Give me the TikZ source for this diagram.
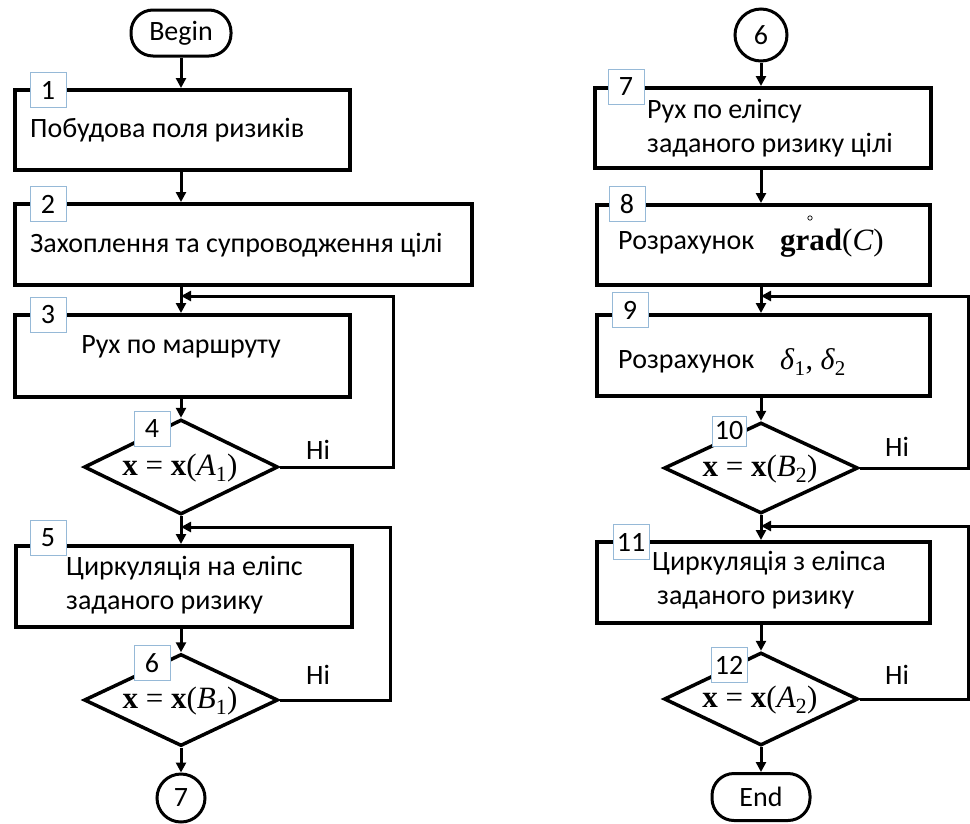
\documentclass[tikz,border=0pt]{standalone}
\usepackage{fontspec}
\setmainfont{Carlito}
\newfontfamily\tms{Liberation Serif}
\usetikzlibrary{shapes.geometric,arrows.meta}

% x = x(P_i) condition text, Times-like
\newcommand\xeq[2]{{\tms\fontsize{31}{32}\selectfont\textbf{x} = \textbf{x}(\textit{#1}\textsubscript{#2})}}

\definecolor{lblue}{RGB}{150,185,215}

\tikzset{
  base/.style={font=\fontsize{28}{34}\selectfont},
  blk/.style={draw, line width=3.5pt, anchor=north west, inner sep=0pt},
  cond/.style={draw, diamond, line width=3.5pt, inner sep=0pt, aspect=2.08},
  term/.style={draw, line width=3pt, rounded corners=22pt, inner sep=0pt, base},
  conn/.style={draw, circle, line width=3pt, minimum size=50pt, inner sep=0pt, base},
  num/.style={draw=lblue, line width=1pt, fill=white, inner sep=0pt,
              minimum width=36pt, minimum height=35pt, base},
  txt/.style={base, anchor=west, align=left, inner sep=0pt},
  arr/.style={line width=3pt, -{Triangle[length=10pt,width=10pt]}},
}

\begin{document}
\begin{tikzpicture}[x=1pt,y=-1pt]
\useasboundingbox (0,0) rectangle (970,823);

% ---------------- left column ----------------
\node[term, minimum width=100pt, minimum height=46pt] (begin) at (181,33) {Begin};

\node[blk, minimum width=335pt, minimum height=80pt] (b1) at (13,88) {};
\node[txt] (t1) at (30,130) {Побудова поля ризиків};

\node[blk, minimum width=457pt, minimum height=81pt] (b2) at (13,202) {};
\node[txt] (t2) at (30,245) {Захоплення та супроводження цілі};

\node[blk, minimum width=335pt, minimum height=82pt] (b3) at (13,313) {};
\node[base, inner sep=0pt] (t3) at (181,347) {Рух по маршруту};

\node[cond, minimum width=194pt, minimum height=95pt] (d4) at (181,467) {};
\node (m4) at (180,468) {\xeq{A}{1}};

\node[blk, minimum width=336pt, minimum height=81pt] (b5) at (14,544) {};
\node[txt] (t5) at (66,585) {Циркуляція на еліпс\\заданого ризику};

\node[cond, minimum width=194pt, minimum height=92pt] (d6) at (181,700) {};
\node (m6) at (180,701) {\xeq{B}{1}};

\node[conn, minimum size=48pt] (c7) at (181,798) {7};

\coordinate (j3) at (181,296);
\coordinate (r4) at (393,296);
\coordinate (j5) at (181,527);
\coordinate (r6) at (390,527);

\draw[arr] (begin.south) -- (begin.south |- b1.north);
\draw[arr] (j3 |- b1.south) -- (j3 |- b2.north);
\draw[arr] (j3 |- b2.south) -- (j3 |- b3.north);
\draw[arr] (j3 |- b3.south) -- (d4.north);
\draw[arr] (d4.south) -- (j5 |- b5.north);
\draw[arr] (j5 |- b5.south) -- (d6.north);
\draw[arr] (d6.south) -- (c7.north);
\draw[arr] (d4.east) -| (r4) -- (j3);
\draw[arr] (d6.east) -| (r6) -- (j5);

\node[base] (n4) at (318,450) {Ні};
\node[base] (n6) at (318,675) {Ні};

% ---------------- right column ----------------
\node[conn, minimum size=52pt] (c6) at (761,35) {6};

\node[blk, minimum width=336pt, minimum height=80pt] (b7) at (593,86) {};
\node[txt] (t7) at (647,128) {Рух по еліпсу\\заданого ризику цілі};

\node[blk, minimum width=333pt, minimum height=80pt] (b8) at (595,203) {};
\node[txt] (t8) at (618,243) {Розрахунок};
\node[txt] (g8) at (780,243) {{\tms\fontsize{31}{32}\selectfont\textbf{grad}(\textit{C\/})}};
\draw[line width=0.7pt] (810,218) circle (2.2pt);

\node[blk, minimum width=333pt, minimum height=81pt] (b9) at (595,313) {};
\node[txt] (t9) at (618,362) {Розрахунок};
\node[txt] (g9) at (780,362) {{\tms\fontsize{30}{32}\selectfont\textit{δ}\textsubscript{1}, \textit{δ}\textsubscript{2}}};

\node[cond, minimum width=194pt, minimum height=91pt] (d10) at (761,468) {};
\node (m10) at (760,469) {\xeq{B}{2}};

\node[blk, minimum width=333pt, minimum height=81pt] (b11) at (595,540) {};
\node[txt] (t11) at (652,580) {Циркуляція з еліпса\\\hspace{5pt}заданого ризику};

\node[cond, minimum width=194pt, minimum height=93pt] (d12) at (761,699) {};
\node (m12) at (760,700) {\xeq{A}{2}};

\node[term, minimum width=98pt, minimum height=47pt] (end) at (761,797) {End};

\coordinate (j9) at (761,296);
\coordinate (r10) at (968,296);
\coordinate (j11) at (761,526);
\coordinate (r12) at (968,526);

\draw[arr] (c6.south) -- (c6.south |- b7.north);
\draw[arr] (j9 |- b7.south) -- (j9 |- b8.north);
\draw[arr] (j9 |- b8.south) -- (j9 |- b9.north);
\draw[arr] (j9 |- b9.south) -- (d10.north);
\draw[arr] (d10.south) -- (j11 |- b11.north);
\draw[arr] (j11 |- b11.south) -- (d12.north);
\draw[arr] (d12.south) -- (end.north);
\draw[arr] (d10.east) -| (r10) -- (j9);
\draw[arr] (d12.east) -| (r12) -- (j11);

\node[base] (n10) at (897,447) {Ні};
\node[base] (n12) at (897,675) {Ні};

% ---------------- step numbers ----------------
\node[num] (l1) at (48,90) {1};
\node[num] (l2) at (48,204) {2};
\node[num] (l3) at (48,315) {3};
\node[num] (l4) at (152,429) {4};
\node[num] (l5) at (48,538) {5};
\node[num] (l6) at (152,663) {6};
\node[num] (l7) at (626,87) {7};
\node[num] (l8) at (627,204) {8};
\node[num] (l9) at (630,310) {9};
\node[num, minimum width=34pt, minimum height=30pt] (l10) at (729,431) {10};
\node[num] (l11) at (631,542) {11};
\node[num] (l12) at (729,665) {12};
\end{tikzpicture}
\end{document}
